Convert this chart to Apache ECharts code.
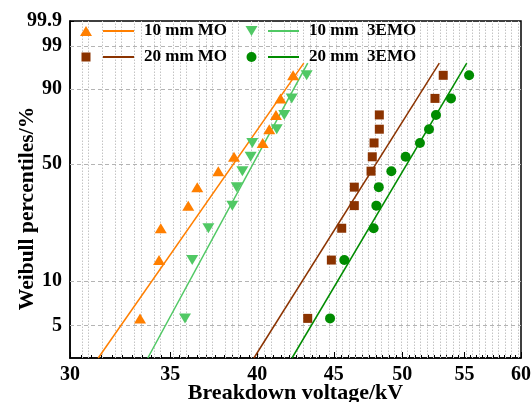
<!DOCTYPE html>
<html><head><meta charset="utf-8">
<script src="https://cdn.jsdelivr.net/npm/echarts@6/dist/echarts.min.js"></script>
<style>html,body{margin:0;padding:0;background:#fff}#c{width:532px;height:402px}</style>
</head><body><div id="c"></div>
<script>
// Median-rank cumulative percentiles (%) for the 12 specimens of each group
const percentiles = [5.6, 13.7, 21.8, 29.8, 37.9, 46.0, 54.0, 62.1, 70.2, 78.2, 86.3, 94.4];
// Breakdown voltages (kV), ordered by rank
const mo10 = [33.41, 34.40, 34.49, 35.98, 36.48, 37.68, 38.60, 40.34, 40.75, 41.17, 41.46, 42.27];
const emo10 = [35.80, 36.20, 37.11, 38.50, 38.76, 39.10, 39.60, 39.70, 41.22, 41.70, 42.18, 43.16];
const mo20 = [43.23, 44.83, 45.55, 46.44, 46.44, 47.65, 47.74, 47.87, 48.26, 48.26, 52.57, 53.24];
const emo20 = [44.74, 45.73, 47.84, 48.04, 48.22, 49.16, 50.25, 51.37, 52.09, 52.65, 53.88, 55.40];
// Weibull fit lines: end points (percentile, kV)
const fitPct = [3, 97];
const mo10Fit = [31.33, 42.97];
const emo10Fit = [33.81, 43.23];
const mo20Fit = [39.80, 52.92];
const emo20Fit = [42.20, 55.20];
// Axis ticks
const xTicks = [30, 35, 40, 45, 50, 55, 60];
const xMinorStep = 0.5;
const yTicks = [5, 10, 50, 90, 99, 99.9];
const yMin = 3, yMax = 99.9;

const names = ['10 mm MO', '10 mm  3EMO', '20 mm MO', '20 mm  3EMO'];
const colors = ['#FF7F00', '#50C864', '#8B3300', '#008C00'];

// log x scale and Weibull probability y scale
const fx = v => Math.log(v);
const fy = p => Math.log(-Math.log(1 - p / 100));
const ix = v => Math.round(Math.exp(v));
const iy = v => parseFloat((100 * (1 - Math.exp(-Math.exp(v)))).toFixed(1));

const xMinor = [];
for (let v = xTicks[0]; v <= xTicks[xTicks.length - 1] + 1e-9; v += xMinorStep) xMinor.push(fx(v));

const FONT = 'Liberation Serif';
const pts = (xs) => xs.map((x, i) => [fx(x), fy(percentiles[i])]);
const fit = (xs) => xs.map((x, i) => [fx(x), fy(fitPct[i])]);

const symbols = [
  {symbol: 'triangle', size: [12, 10], rotate: 0},
  {symbol: 'triangle', size: [12, 10], rotate: 180},
  {symbol: 'rect', size: [9, 9], rotate: 0},
  {symbol: 'circle', size: [10, 10], rotate: 0}
];
const groups = [mo10, emo10, mo20, emo20];
const fits = [mo10Fit, emo10Fit, mo20Fit, emo20Fit];

const series = [];
// grid lines (minor vertical dotted, horizontal dashed at major y ticks)
const gridLines = [];
xMinor.slice(1, -1).forEach(v => gridLines.push({xAxis: v, lineStyle: {color: '#c4c4c4', type: [1.5, 1.5], width: 1}}));
yTicks.slice(0, -1).forEach(p => gridLines.push({yAxis: fy(p), lineStyle: {color: '#b4b4b4', type: [4, 3], width: 1}}));
series.push({
  type: 'line', name: 'grid', data: [], z: 1, silent: true,
  markLine: {silent: true, symbol: ['none', 'none'], label: {show: false}, animation: false, data: gridLines}
});
groups.forEach((g, k) => {
  series.push({
    type: 'line', name: names[k], data: fit(fits[k]), symbol: 'none', showSymbol: false,
    lineStyle: {color: colors[k], width: 1.5}, itemStyle: {color: colors[k]}, z: 8
  });
});
groups.forEach((g, k) => {
  series.push({
    type: 'scatter', name: 'pts' + k, data: pts(g), symbol: symbols[k].symbol,
    symbolSize: symbols[k].size, symbolRotate: symbols[k].rotate,
    itemStyle: {color: colors[k], opacity: 1}, z: 12
  });
});

const symLegendPos = [[86, 31], [251.5, 31], [86, 57], [251.5, 57]];
const legends = [];
groups.forEach((g, k) => {
  const s = symbols[k];
  const w = s.size[0], h = s.size[1];
  legends.push({
    data: [{name: 'pts' + k, icon: s.symbol === 'rect' ? 'rect' : (s.symbol === 'circle' ? 'circle' : (s.rotate ? 'path://M0,0L12,0L6,10Z' : 'path://M6,0L12,10L0,10Z'))}],
    left: symLegendPos[k][0] - w / 2, top: symLegendPos[k][1] - h / 2,
    itemWidth: w, itemHeight: h, padding: 0, itemGap: 0, z: 20,
    formatter: () => '', selectedMode: false,
    textStyle: {fontSize: 4}
  });
});
[[0, 2, 102], [1, 3, 267]].forEach(([a, b, left]) => {
  legends.push({
    data: [names[a], names[b]], orient: 'vertical', left: left, top: 22, z: 20,
    itemWidth: 31, itemHeight: 14, itemGap: 8, padding: 0, selectedMode: false,
    itemStyle: {opacity: 0},
    textStyle: {fontFamily: FONT, fontWeight: 'bold', fontSize: 17, color: '#000', lineHeight: 18, padding: [0, 0, 0, 5]}
  });
});

const chart = echarts.init(document.getElementById('c'), null, {renderer: 'canvas'});
chart.setOption({
  animation: false,
  backgroundColor: '#fff',
  grid: {left: 70, right: 11, top: 21, bottom: 44, show: true, borderColor: '#000', borderWidth: 1.5,
    backgroundColor: 'transparent', outerBoundsMode: 'none', containLabel: false},
  legend: legends,
  xAxis: [{
    type: 'value', min: fx(xTicks[0]), max: fx(xTicks[xTicks.length - 1]), position: 'bottom',
    name: 'Breakdown voltage/kV', nameLocation: 'middle', nameGap: 24, nameMoveOverlap: false,
    nameTextStyle: {fontFamily: FONT, fontWeight: 'bold', fontSize: 22, color: '#000', verticalAlign: 'top'},
    axisLine: {show: true, onZero: false, lineStyle: {color: '#000', width: 1.5}},
    axisTick: {show: true, inside: true, length: 6, customValues: xTicks.map(fx), lineStyle: {color: '#000', width: 1}},
    axisLabel: {customValues: xTicks.map(fx), formatter: v => String(ix(v)), margin: 7,
      fontFamily: FONT, fontWeight: 'bold', fontSize: 20, color: '#000'},
    splitLine: {show: false}
  }, {
    type: 'value', min: fx(xTicks[0]), max: fx(xTicks[xTicks.length - 1]), position: 'bottom',
    axisLine: {show: false, onZero: false},
    axisTick: {show: true, inside: true, length: 3, customValues: xMinor, lineStyle: {color: '#000', width: 1}},
    axisLabel: {show: false},
    splitLine: {show: false}
  }],
  yAxis: {
    type: 'value', min: fy(yMin), max: fy(yMax),
    name: '{t|Weibull percentiles/%}{s| }', nameLocation: 'middle', nameGap: 32, nameRotate: 90, nameMoveOverlap: false,
    nameTextStyle: {color: '#000', rich: {
      t: {fontFamily: FONT, fontWeight: 'bold', fontSize: 21.5, color: '#000'},
      s: {width: 38, fontSize: 21.5}
    }},
    axisLine: {show: true, onZero: false, lineStyle: {color: '#000', width: 1.5}},
    axisTick: {show: true, inside: true, length: 4, customValues: yTicks.map(fy), lineStyle: {color: '#000', width: 1}},
    axisLabel: {customValues: yTicks.map(fy), formatter: v => String(iy(v)), margin: 8,
      fontFamily: FONT, fontWeight: 'bold', fontSize: 20, color: '#000'},
    splitLine: {show: false}
  },
  series: series.map(s => Object.assign(s, {xAxisIndex: 0, yAxisIndex: 0}))
});
</script></body></html>
